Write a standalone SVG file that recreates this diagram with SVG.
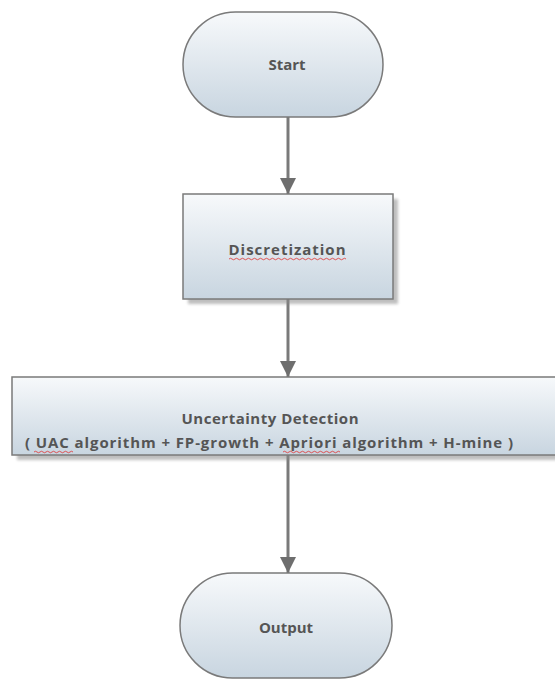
<svg xmlns="http://www.w3.org/2000/svg" width="555" height="681" viewBox="0 0 555 681">
<style>
.shape{fill:url(#g);stroke:#7a7a7a;stroke-width:1.5}
.sh{fill:#8a8a8a;opacity:0.55;filter:url(#blur)}
.t{font-family:"Open Sans","DejaVu Sans",sans-serif;font-weight:bold;font-size:15px;fill:#555555;text-anchor:middle}
.conn{stroke:#7a7a7a;stroke-width:3;fill:none}
.sq{stroke:#e03030;stroke-width:0.8;fill:none}
</style>
<defs>
<linearGradient id="g" x1="0" y1="0" x2="0" y2="1">
<stop offset="0" stop-color="#f7f9fb"/>
<stop offset="1" stop-color="#c8d5e0"/>
</linearGradient>
<filter id="blur" x="-10%" y="-10%" width="120%" height="120%"><feGaussianBlur stdDeviation="1.5"/></filter>
<marker id="ah" markerUnits="userSpaceOnUse" markerWidth="18" markerHeight="24" refX="16" refY="8" orient="auto">
<path d="M0,0 L16,8 L0,16 Z" fill="#6e6e6e"/>
</marker>
</defs>
<g id="connectors">
<line class="conn" x1="288" y1="117" x2="288" y2="194" marker-end="url(#ah)"/>
<line class="conn" x1="288" y1="299" x2="288" y2="377" marker-end="url(#ah)"/>
<line class="conn" x1="288" y1="455" x2="288" y2="573" marker-end="url(#ah)"/>
</g>
<g id="start">
<rect class="shape" x="183" y="12" width="200" height="105" rx="52.5"/>
<text class="t" x="287" y="70">Start</text>
</g>
<g id="discretization">
<rect class="sh" x="188" y="199" width="210" height="105"/>
<rect class="shape" x="183" y="194" width="210" height="105"/>
<text class="t" x="287" y="255" textLength="117">Discretization</text>
<path class="sq" d="M229,259 q1.5,-1.5 3,0 t3,0 t3,0 t3,0 t3,0 t3,0 t3,0 t3,0 t3,0 t3,0 t3,0 t3,0 t3,0 t3,0 t3,0 t3,0 t3,0 t3,0 t3,0 t3,0 t3,0 t3,0 t3,0 t3,0 t3,0 t3,0 t3,0 t3,0 t3,0 t3,0 t3,0 t3,0 t3,0 t3,0 t3,0 t3,0 t3,0 t3,0 t3,0"/>
</g>
<g id="uncertainty">
<rect class="sh" x="17" y="382" width="560" height="78"/>
<rect class="shape" x="12" y="377" width="560" height="78"/>
<text class="t" x="270" y="424" textLength="177">Uncertainty Detection</text>
<text class="t" x="269" y="448" textLength="488">( UAC algorithm + FP-growth + Apriori algorithm + H-mine )</text>
<path class="sq" d="M34,452 q1.5,-1.5 3,0 t3,0 t3,0 t3,0 t3,0 t3,0 t3,0 t3,0 t3,0 t3,0 t3,0 t3,0 t3,0"/>
<path class="sq" d="M283,452 q1.5,-1.5 3,0 t3,0 t3,0 t3,0 t3,0 t3,0 t3,0 t3,0 t3,0 t3,0 t3,0 t3,0 t3,0 t3,0 t3,0 t3,0 t3,0 t3,0 t3,0"/>
</g>
<g id="output">
<rect class="shape" x="180" y="573" width="212" height="105" rx="52.5"/>
<text class="t" x="286" y="633">Output</text>
</g>
</svg>
